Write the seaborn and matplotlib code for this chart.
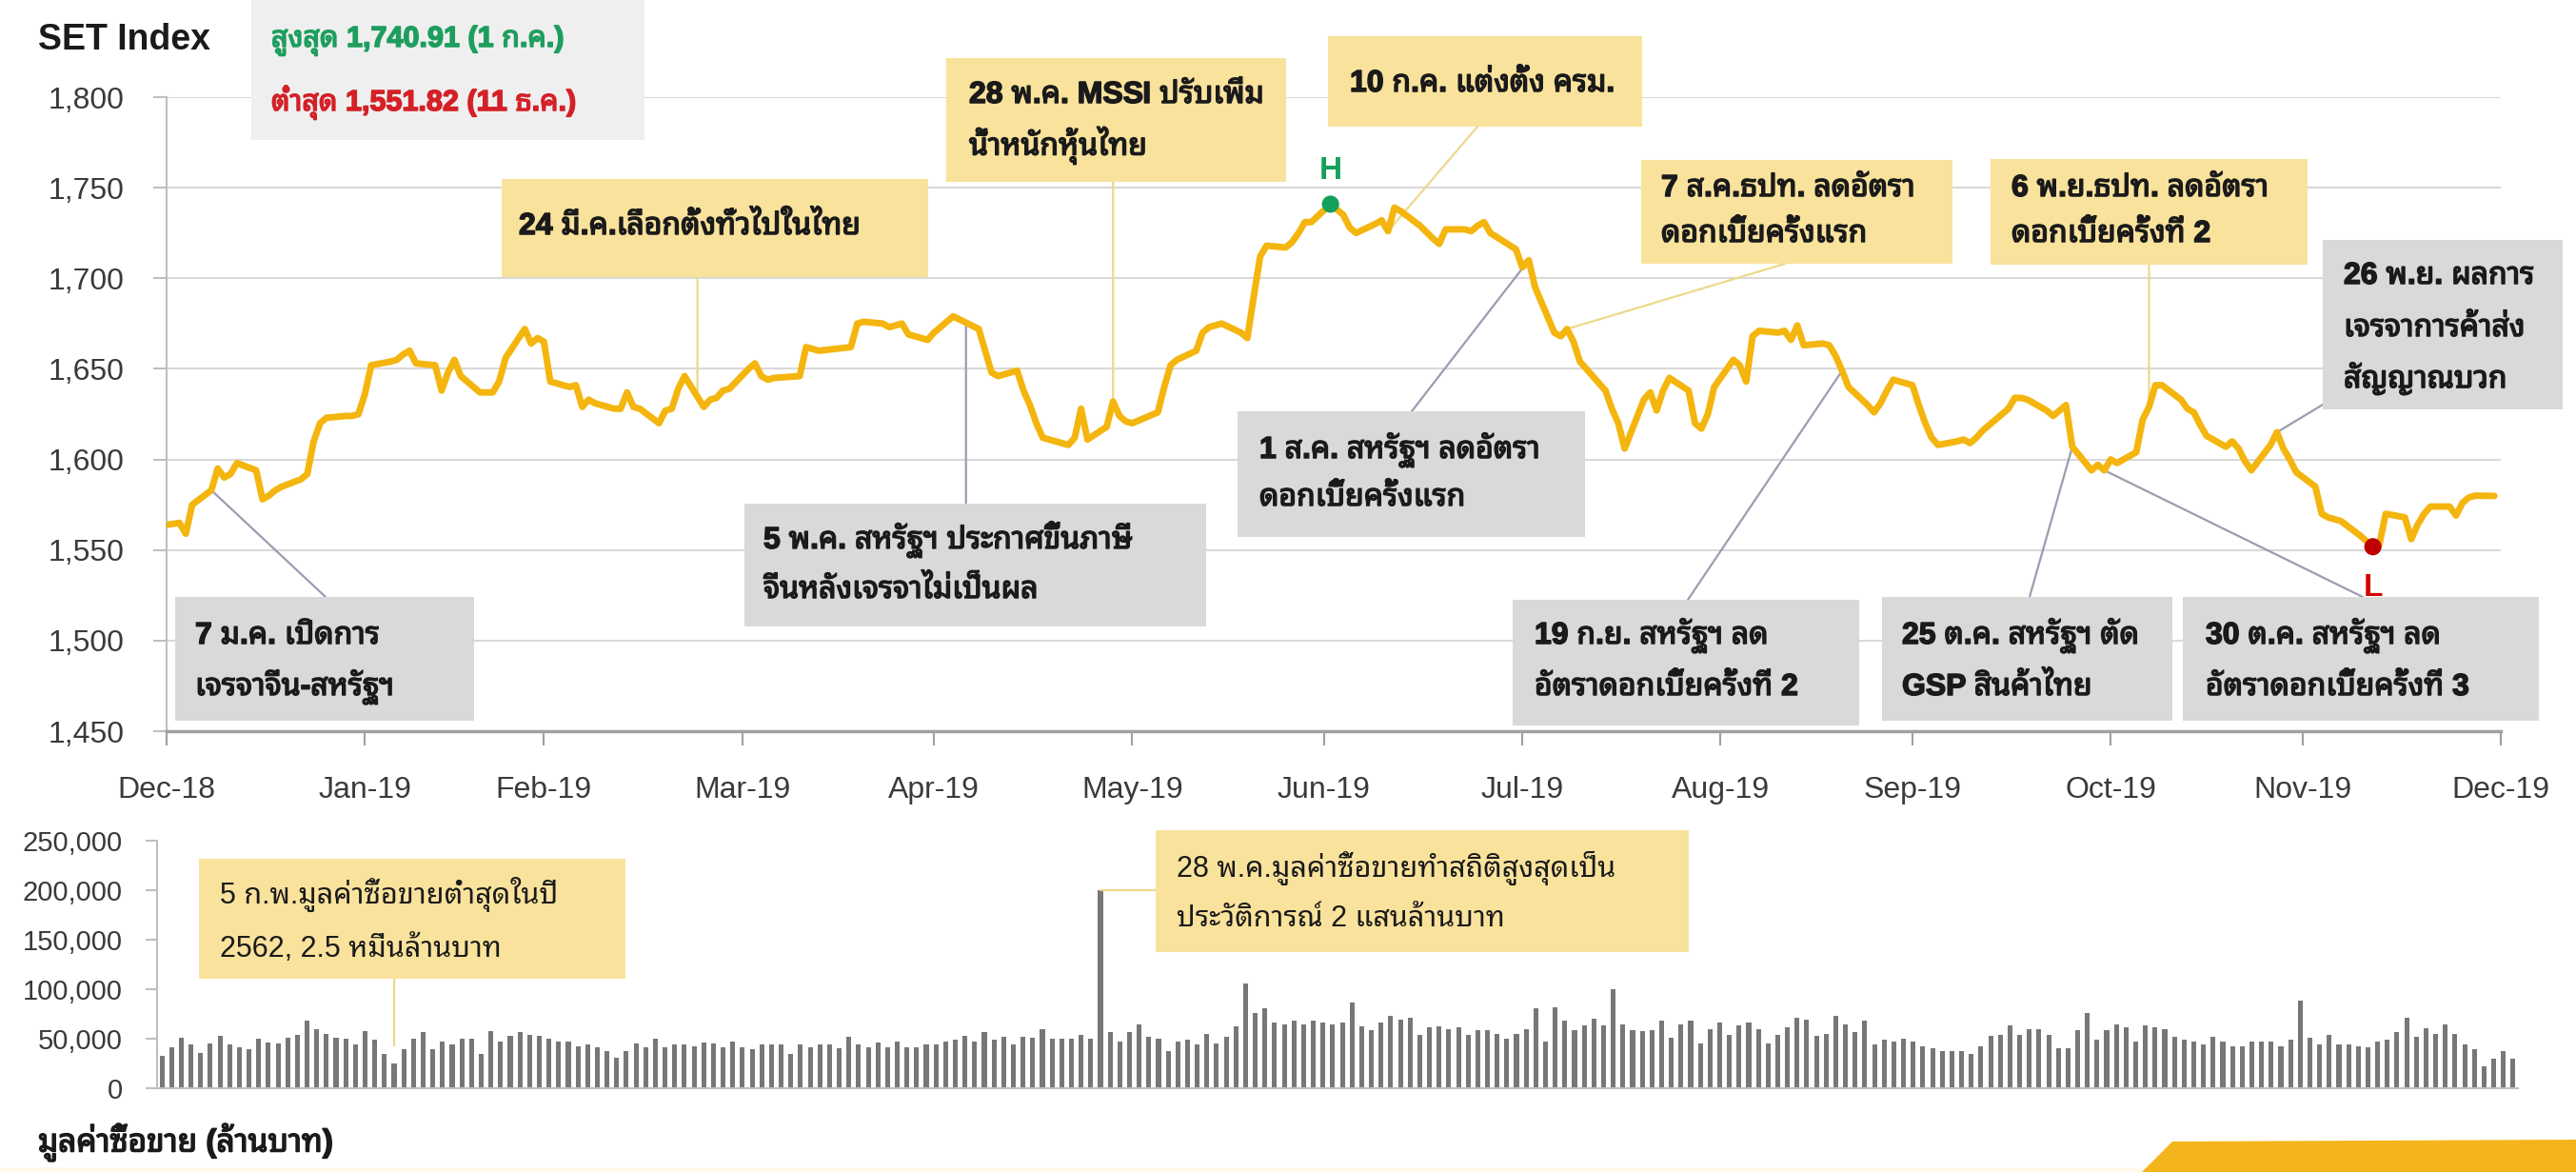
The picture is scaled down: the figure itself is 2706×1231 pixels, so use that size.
import numpy as np
import pandas as pd
import matplotlib
matplotlib.use("Agg")
import matplotlib.pyplot as plt
import matplotlib.dates as mdates
from matplotlib import font_manager, patheffects
from matplotlib.ft2font import FT2Font
from matplotlib.patches import Rectangle, Polygon
from matplotlib.ticker import FuncFormatter
import seaborn as sns

# ------------------------------------------------------------------ data
# SET index close, 2019 (index points); first value is the 2018 year-end close
start_date = "2018-12-31"
start_close = 1563.88

days_jan = [2, 3, 4, 7, 8, 9, 10, 11, 14, 15, 16, 17, 18, 21, 22, 23, 24, 25, 28, 29, 30, 31]
days_feb = [1, 4, 5, 6, 7, 8, 11, 12, 13, 14, 15, 18, 20, 21, 22, 25, 26, 27, 28]
days_mar = [1, 4, 5, 6, 7, 8, 11, 12, 13, 14, 15, 18, 19, 20, 21, 22, 25, 26, 27, 28, 29]
days_apr = [1, 2, 3, 4, 5, 9, 10, 11, 12, 17, 18, 19, 22, 23, 24, 25, 26, 29, 30]
days_may = [2, 3, 7, 8, 9, 10, 13, 14, 15, 16, 17, 21, 22, 23, 24, 27, 28, 29, 30, 31]
days_jun = [4, 5, 6, 7, 10, 11, 12, 13, 14, 17, 18, 19, 20, 21, 24, 25, 26, 27, 28]
days_jul = [1, 2, 3, 4, 5, 8, 9, 10, 11, 12, 15, 17, 18, 19, 22, 23, 24, 25, 26, 30, 31]
days_aug = [1, 2, 5, 6, 7, 8, 9, 13, 14, 15, 16, 19, 20, 21, 22, 23, 26, 27, 28, 29, 30]
days_sep = [2, 3, 4, 5, 6, 9, 10, 11, 12, 13, 16, 17, 18, 19, 20, 23, 24, 25, 26, 27, 30]
days_oct = [1, 2, 3, 4, 7, 8, 9, 10, 11, 15, 16, 17, 18, 21, 22, 24, 25, 28, 29, 30, 31]
days_nov = [1, 4, 5, 6, 7, 8, 11, 12, 13, 14, 15, 18, 19, 20, 21, 22, 25, 26, 27, 28, 29]
days_dec = [2, 3, 4, 6, 9, 11, 12, 13, 16, 17, 18, 19, 20, 23, 24, 25, 26, 27, 30]

set_jan = [1565, 1559, 1575, 1583, 1595, 1590, 1592, 1598, 1594, 1578, 1580,
           1583, 1585, 1589, 1592, 1610, 1620, 1623, 1624, 1624, 1625, 1636]
set_feb = [1652, 1654, 1655, 1658, 1660, 1653, 1652, 1638, 1648, 1655, 1646,
           1637, 1637, 1643, 1656, 1672, 1664, 1667, 1665]
set_mar = [1643, 1640, 1641, 1629, 1633, 1631, 1628, 1628, 1637, 1629, 1628,
           1620, 1627, 1628, 1639, 1646, 1629, 1633, 1634, 1638, 1639]
set_apr = [1650, 1653, 1646, 1644, 1645, 1646, 1662, 1661, 1660, 1662, 1675,
           1676, 1675, 1673, 1674, 1675, 1669, 1666, 1670]
set_may = [1676, 1679, 1672, 1660, 1648, 1646, 1649, 1638, 1630, 1620, 1612,
           1608, 1612, 1628, 1611, 1618, 1632, 1624, 1621, 1620]
set_jun = [1626, 1640, 1652, 1655, 1660, 1670, 1673, 1674, 1675, 1670, 1667,
           1690, 1712, 1718, 1717, 1720, 1725, 1731, 1731]
set_jul = [1740.91, 1738, 1735, 1728, 1725, 1730, 1732, 1726, 1739, 1737, 1729,
           1722, 1719, 1727, 1727, 1726, 1729, 1731, 1725, 1716, 1706]
set_aug = [1710, 1695, 1670, 1668, 1672, 1665, 1654, 1638, 1628, 1620, 1606,
           1633, 1637, 1627, 1638, 1645, 1638, 1620, 1617, 1625, 1640]
set_sep = [1655, 1652, 1643, 1668, 1671, 1670, 1671, 1666, 1674, 1663, 1664,
           1663, 1657, 1649, 1640, 1630, 1626, 1631, 1638, 1644, 1641]
set_oct = [1630, 1620, 1612, 1608, 1610, 1611, 1609, 1612, 1616, 1628, 1634,
           1634, 1633, 1627, 1624, 1630, 1607, 1594, 1597, 1594, 1600]
set_nov = [1598, 1604, 1622, 1629, 1641, 1641, 1633, 1628, 1626, 1619, 1613,
           1607, 1610, 1606, 1599, 1594, 1608, 1615, 1606, 1600, 1593]
set_dec = [1585, 1570, 1568, 1566, 1558, 1551.82, 1553, 1570, 1568, 1556, 1564,
           1570, 1574, 1574, 1569, 1576, 1579, 1580, 1579.84]

# daily turnover (million baht), one bar per 2019 trading day
turnover_h1 = [
    33000, 41000, 51000, 44000, 36000, 45500, 53000, 44600, 41000, 39000,
    50000, 46500, 45500, 51000, 53500, 68000, 60000, 55000, 51000, 50000,
    44000, 58000, 48700, 34400, 25000, 39000, 50000, 57000, 39000, 47000,
    44600, 50000, 50000, 34400, 58000, 47000, 53000, 57000, 53500, 53000,
    50000, 47000, 47000, 42400, 44600, 41000, 37600, 31200, 37600, 45500,
    41000, 50000, 41000, 44000, 44000, 42400, 46500, 45500, 41400, 47000,
    41400, 39000, 44600, 44000, 44000, 34400, 44000, 41400, 44000, 44600,
    40000, 52000, 44000, 41000, 46500, 41400, 47000, 41400, 41000, 44600,
    44000, 47000, 48700, 53000, 47000, 57000, 48700, 52000, 44000, 52000,
    51000, 60000, 50000, 50000, 50000, 54000, 50000, 200000, 57000, 47000,
    57000, 64600, 52000, 50000, 37600, 47000, 48700, 44000, 55000, 45500,
    52000, 62400, 106000, 76000, 80600, 66000, 64600, 67800, 64600, 67800]
turnover_h2 = [
    66200, 64600, 66200, 86900, 62400, 58300, 66200,
    72600, 69400, 71000, 53500, 61500, 62400, 59900, 61500, 53500, 58300,
    58300, 55100, 50300, 55100, 59900, 80600, 47100, 82200, 67800, 58300,
    63100, 70100, 63100, 99700, 64600, 58300, 57300, 58300, 67800, 51000,
    64600, 67800, 45500, 59900, 66200, 53500, 63100, 66200, 59900, 45500,
    53500, 61500, 71000, 69400, 52900, 55100, 72600, 64600, 56700, 67800,
    44000, 48700, 47100, 50300, 47100, 42400, 40800, 37600, 37600, 37600,
    34400, 42400, 52900, 53500, 63100, 53500, 59900, 59900, 53500, 40800,
    40800, 58300, 76400, 48700, 58300, 64600, 61500, 47100, 63100, 61500,
    59200, 51900, 48700, 47100, 44600, 51900, 47100, 42400, 42400, 47100,
    47100, 47100, 42400, 48700, 88500, 51000, 44600, 54100, 44000, 44600,
    42400, 41400, 47100, 48700, 56700, 71000, 51900, 60500, 55100, 64600,
    55100, 44000, 39200, 21700, 29600, 37600, 29600]

tick_dates = ["2018-12-31", "2019-01-31", "2019-02-28", "2019-03-31", "2019-04-30",
              "2019-05-31", "2019-06-30", "2019-07-31", "2019-08-31", "2019-09-30",
              "2019-10-31", "2019-11-30", "2019-12-31"]
tick_labels = ["Dec-18", "Jan-19", "Feb-19", "Mar-19", "Apr-19", "May-19", "Jun-19",
               "Jul-19", "Aug-19", "Sep-19", "Oct-19", "Nov-19", "Dec-19"]
index_ticks = [1450, 1500, 1550, 1600, 1650, 1700, 1750, 1800]
turnover_ticks = [0, 50000, 100000, 150000, 200000, 250000]

high_day_text = "1 ก.ค."
low_day_text = "11 ธ.ค."

event_dates = ["2019-01-07", "2019-03-24", "2019-05-05", "2019-05-28", "2019-07-10",
               "2019-08-01", "2019-08-07", "2019-09-19", "2019-10-25", "2019-10-30",
               "2019-11-06", "2019-11-26"]
event_texts = [
    ["7 ม.ค. เปิดการ", "เจรจาจีน-สหรัฐฯ"],
    ["24 มี.ค.เลือกตั้งทั่วไปในไทย"],
    ["5 พ.ค. สหรัฐฯ ประกาศขึ้นภาษี", "จีนหลังเจรจาไม่เป็นผล"],
    ["28 พ.ค. MSCI ปรับเพิ่ม", "น้ำหนักหุ้นไทย"],
    ["10 ก.ค. แต่งตั้ง ครม."],
    ["1 ส.ค. สหรัฐฯ ลดอัตรา", "ดอกเบี้ยครั้งแรก"],
    ["7 ส.ค.ธปท. ลดอัตรา", "ดอกเบี้ยครั้งแรก"],
    ["19 ก.ย. สหรัฐฯ ลด", "อัตราดอกเบี้ยครั้งที่ 2"],
    ["25 ต.ค. สหรัฐฯ ตัด", "GSP สินค้าไทย"],
    ["30 ต.ค. สหรัฐฯ ลด", "อัตราดอกเบี้ยครั้งที่ 3"],
    ["6 พ.ย.ธปท. ลดอัตรา", "ดอกเบี้ยครั้งที่ 2"],
    ["26 พ.ย. ผลการ", "เจรจาการค้าส่ง", "สัญญาณบวก"],
]
low_turnover_date = "2019-02-05"
low_turnover_text = ["5 ก.พ.มูลค่าซื้อขายต่ำสุดในปี", "2562, 2.5 หมื่นล้านบาท"]
high_turnover_date = "2019-05-28"
high_turnover_text = ["28 พ.ค.มูลค่าซื้อขายทำสถิติสูงสุดเป็น", "ประวัติการณ์ 2 แสนล้านบาท"]

# ------------------------------------------------------------------ assemble series
months = [(1, days_jan, set_jan), (2, days_feb, set_feb), (3, days_mar, set_mar),
          (4, days_apr, set_apr), (5, days_may, set_may), (6, days_jun, set_jun),
          (7, days_jul, set_jul), (8, days_aug, set_aug), (9, days_sep, set_sep),
          (10, days_oct, set_oct), (11, days_nov, set_nov), (12, days_dec, set_dec)]
trade_dates, closes = [], []
for m, days, vals in months:
    assert len(days) == len(vals), m
    trade_dates += [pd.Timestamp(2019, m, d) for d in days]
    closes += vals
turnover = turnover_h1 + turnover_h2
assert len(turnover) == len(trade_dates)

index_df = pd.DataFrame({"date": [pd.Timestamp(start_date)] + trade_dates,
                         "close": [start_close] + closes})
turnover_df = pd.DataFrame({"day": np.arange(len(trade_dates)), "value": turnover})

# ------------------------------------------------------------------ fonts
sns.set_theme(style="white")


def thai_family():
    known = {f.fname for f in font_manager.fontManager.ttflist}
    for path in font_manager.findSystemFonts():
        if path not in known:
            try:
                font_manager.fontManager.addfont(path)
            except Exception:
                pass
    found = {}
    for entry in font_manager.fontManager.ttflist:
        try:
            cmap = FT2Font(entry.fname).get_charmap()
        except Exception:
            continue
        if all(cp in cmap for cp in (0x0E01, 0x0E2A, 0x0E31, 0x0E48)):
            w = entry.weight if isinstance(entry.weight, int) else 400
            found.setdefault(entry.name, set()).add(w)
    preferred = ["Noto Sans Thai Looped", "Loma", "Garuda", "Tlwg Typo", "Waree",
                 "Noto Sans Thai", "Noto Sans Thai UI", "Sarabun", "Umpush",
                 "Kinnari", "Norasi", "FreeSans"]
    for name in preferred + sorted(found):
        if name in found:
            return name, max(found[name]) >= 600
    return None, False


thai, thai_bold = thai_family()
families = ["Liberation Sans"] + ([thai] if thai else []) + ["DejaVu Sans"]
plt.rcParams["font.family"] = families


def heavy(color, width=1.1):
    """Extra stroke so Thai glyphs read as bold when the face has no bold cut."""
    if thai_bold:
        return []
    return [patheffects.withStroke(linewidth=width, foreground=color)]


# ------------------------------------------------------------------ layout helpers
W, H = 2706, 1231


def fx(px):
    return px / W


def fy(py):
    return 1 - py / H


GOLD = "#F4B50F"
BOX_YELLOW = "#F9E29C"
BOX_GRAY = "#D9D9D9"
LEAD_YELLOW = "#EDD88C"
LEAD_GRAY = "#9C9CB2"
TEXT = "#1A1A1A"
AXIS_TEXT = "#3A3A3A"

fig = plt.figure(figsize=(W / 100, H / 100), dpi=100)
fig.patch.set_facecolor("white")

ax1 = fig.add_axes([fx(175), fy(768), fx(2627) - fx(175), fy(102) - fy(768)])
ax2 = fig.add_axes([fx(165), fy(1143), fx(2645) - fx(165), fy(883) - fy(1143)])

# ------------------------------------------------------------------ SET index line
sns.lineplot(data=index_df, x="date", y="close", ax=ax1, color=GOLD,
             linewidth=5, zorder=3)
ax1.set_xlim(pd.Timestamp(tick_dates[0]), pd.Timestamp(tick_dates[-1]))
ax1.set_ylim(index_ticks[0], index_ticks[-1])
ax1.set_xticks([pd.Timestamp(t) for t in tick_dates])
ax1.set_xticklabels(tick_labels)
ax1.set_yticks(index_ticks)
ax1.yaxis.set_major_formatter(FuncFormatter(lambda v, _: f"{v:,.0f}"))
ax1.set_xlabel("")
ax1.set_ylabel("")
ax1.yaxis.grid(True, color="#D9D9D9", linewidth=1.5)
ax1.xaxis.grid(False)
for side in ("top", "right"):
    ax1.spines[side].set_visible(False)
ax1.spines["left"].set_color("#BFBFBF")
ax1.spines["left"].set_linewidth(1.5)
ax1.spines["bottom"].set_color("#A0A0A0")
ax1.spines["bottom"].set_linewidth(2.5)
ax1.spines["bottom"].set_zorder(4)
ax1.tick_params(axis="y", left=True, length=10, width=1.5, color="#BFBFBF",
                pad=22, labelsize=23, labelcolor=AXIS_TEXT)
ax1.tick_params(axis="x", bottom=True, length=11, width=1.5, color="#A0A0A0",
                pad=23, labelsize=23, labelcolor=AXIS_TEXT)
ax1.set_facecolor("white")

# high / low markers taken from the series itself
hi_i = int(index_df["close"].idxmax())
lo_i = int(index_df["close"].idxmin())
hi_date, hi_val = index_df.loc[hi_i, "date"], index_df.loc[hi_i, "close"]
lo_date, lo_val = index_df.loc[lo_i, "date"], index_df.loc[lo_i, "close"]
sns.scatterplot(x=[hi_date], y=[hi_val], ax=ax1, color="#14A05A", s=170,
                edgecolor="none", zorder=6)
sns.scatterplot(x=[lo_date], y=[lo_val], ax=ax1, color="#C00000", s=170,
                edgecolor="none", zorder=6)
ax1.annotate("H", xy=(hi_date, hi_val), xytext=(0, 25), textcoords="offset points",
             ha="center", va="center", color="#14A05A", fontsize=24,
             fontweight="bold", zorder=6)
ax1.annotate("L", xy=(lo_date, lo_val), xytext=(0, -31), textcoords="offset points",
             ha="center", va="center", color="#D40000", fontsize=24,
             fontweight="bold", zorder=6)

# ------------------------------------------------------------------ turnover bars
sns.barplot(data=turnover_df, x="day", y="value", ax=ax2, color="#777777",
            width=0.5, saturation=1, errorbar=None, linewidth=0)
ax2.set_xlim(-0.5, len(turnover) - 0.5)
ax2.set_ylim(turnover_ticks[0], turnover_ticks[-1])
ax2.set_xticks([])
ax2.set_yticks(turnover_ticks)
ax2.yaxis.set_major_formatter(FuncFormatter(lambda v, _: f"{v:,.0f}"))
ax2.set_xlabel("")
ax2.set_ylabel("")
ax2.grid(False)
for side in ("top", "right"):
    ax2.spines[side].set_visible(False)
ax2.spines["left"].set_color("#BFBFBF")
ax2.spines["left"].set_linewidth(1.5)
ax2.spines["bottom"].set_color("#BFBFBF")
ax2.spines["bottom"].set_linewidth(1.5)
ax2.tick_params(axis="y", left=True, length=9, width=1.5, color="#BFBFBF",
                pad=17, labelsize=21, labelcolor=AXIS_TEXT)
ax2.set_facecolor("white")

# ------------------------------------------------------------------ annotation helpers
date_nums = mdates.date2num(index_df["date"])


def level_on(day):
    """SET level on the line at a calendar day (between trading days too)."""
    return float(np.interp(mdates.date2num(pd.Timestamp(day)), date_nums,
                           index_df["close"]))


def box(x0, y0, x1, y1, lines, tx, ty, fill, bold=True, size=23):
    fig.add_artist(Rectangle((fx(x0), fy(y1)), fx(x1) - fx(x0), fy(y0) - fy(y1),
                             transform=fig.transFigure, facecolor=fill,
                             edgecolor="none", zorder=5))
    for line, y in zip(lines, ty):
        t = fig.text(fx(tx), fy(y), line, ha="left", va="center", fontsize=size,
                     fontweight="bold" if bold else "normal", color=TEXT, zorder=6)
        if bold:
            t.set_path_effects(heavy(TEXT))


def lead(day, px, py, color, vertical=False):
    when = mdates.date2num(pd.Timestamp(day))
    if vertical:
        xytext, coords = (when, fy(py)), ("data", "figure fraction")
    else:
        xytext, coords = (fx(px), fy(py)), "figure fraction"
    ax1.annotate("", xy=(when, level_on(day)), xycoords="data", xytext=xytext,
                 textcoords=coords, annotation_clip=False, zorder=2,
                 arrowprops=dict(arrowstyle="-", color=color, lw=1.6,
                                 shrinkA=0, shrinkB=0))


# leader lines from each note to the index line
lead(event_dates[0], 342, 627, LEAD_GRAY)
lead(event_dates[1], None, 291, LEAD_YELLOW, vertical=True)
lead(event_dates[2], None, 529, LEAD_GRAY, vertical=True)
lead(event_dates[3], None, 191, LEAD_YELLOW, vertical=True)
lead(event_dates[4], 1552, 133, LEAD_YELLOW)
lead(event_dates[5], 1483, 432, LEAD_GRAY)
lead(event_dates[6], 1875, 277, LEAD_YELLOW)
lead(event_dates[7], 1773, 630, LEAD_GRAY)
lead(event_dates[8], 2132, 627, LEAD_GRAY)
lead(event_dates[9], 2482, 627, LEAD_GRAY)
lead(event_dates[10], None, 278, LEAD_YELLOW, vertical=True)
lead(event_dates[11], 2440, 425, LEAD_GRAY)

# note boxes around the index line
box(184, 627, 498, 757, event_texts[0], 205, [668, 722], BOX_GRAY)
box(527, 188, 975, 291, event_texts[1], 545, [238], BOX_YELLOW)
box(782, 529, 1267, 658, event_texts[2], 802, [567, 620], BOX_GRAY)
box(994, 61, 1351, 191, event_texts[3], 1018, [100, 153], BOX_YELLOW)
box(1395, 38, 1725, 133, event_texts[4], 1418, [88], BOX_YELLOW)
box(1300, 432, 1665, 564, event_texts[5], 1323, [473, 523], BOX_GRAY)
box(1724, 168, 2051, 277, event_texts[6], 1745, [198, 246], BOX_YELLOW)
box(1589, 630, 1953, 762, event_texts[7], 1612, [668, 722], BOX_GRAY)
box(1977, 627, 2282, 757, event_texts[8], 1998, [668, 722], BOX_GRAY)
box(2293, 627, 2667, 757, event_texts[9], 2317, [668, 722], BOX_GRAY)
box(2091, 167, 2424, 278, event_texts[10], 2113, [198, 246], BOX_YELLOW)
box(2440, 252, 2692, 430, event_texts[11], 2462, [290, 345, 398], BOX_GRAY)

# turnover notes
lo_day = trade_dates.index(pd.Timestamp(low_turnover_date))
hi_day = trade_dates.index(pd.Timestamp(high_turnover_date))
ax2.annotate("", xy=(lo_day, turnover[lo_day] + 18000), xycoords="data",
             xytext=(lo_day, fy(1028)), textcoords=("data", "figure fraction"),
             annotation_clip=False, zorder=2,
             arrowprops=dict(arrowstyle="-", color=LEAD_YELLOW, lw=1.6,
                             shrinkA=0, shrinkB=0))
ax2.annotate("", xy=(hi_day, turnover[hi_day]), xycoords="data",
             xytext=(fx(1214), turnover[hi_day]), textcoords=("figure fraction", "data"),
             annotation_clip=False, zorder=2,
             arrowprops=dict(arrowstyle="-", color=LEAD_YELLOW, lw=1.6,
                             shrinkA=0, shrinkB=0))
box(209, 902, 657, 1028, low_turnover_text, 231, [940, 997], BOX_YELLOW,
    bold=False, size=22)
box(1214, 872, 1774, 1000, high_turnover_text, 1236, [912, 965], BOX_YELLOW,
    bold=False, size=22)

# ------------------------------------------------------------------ titles and summary
fig.text(fx(40), fy(42), "SET Index", ha="left", va="center", fontsize=27,
         fontweight="bold", color="#1A1A1A")
fig.add_artist(Rectangle((fx(264), fy(147)), fx(677) - fx(264), fy(0) - fy(147),
                         transform=fig.transFigure, facecolor="#EFEFEF",
                         edgecolor="none", zorder=1))
hi_txt = fig.text(fx(285), fy(42), f"สูงสุด {hi_val:,.2f} ({high_day_text})",
                  ha="left", va="center", fontsize=22, fontweight="bold",
                  color="#1E9E5E", zorder=2)
hi_txt.set_path_effects(heavy("#1E9E5E"))
lo_txt = fig.text(fx(285), fy(108), f"ต่ำสุด {lo_val:,.2f} ({low_day_text})",
                  ha="left", va="center", fontsize=22, fontweight="bold",
                  color="#D42027", zorder=2)
lo_txt.set_path_effects(heavy("#D42027"))
unit_txt = fig.text(fx(40), fy(1200), "มูลค่าซื้อขาย (ล้านบาท)", ha="left",
                    va="center", fontsize=24, fontweight="bold", color="#1A1A1A")
unit_txt.set_path_effects(heavy("#1A1A1A"))

# decorative footer
fig.add_artist(Rectangle((0, 0), fx(2250), fy(1226), transform=fig.transFigure,
                         facecolor="#FEFAEC", edgecolor="none", zorder=0))
fig.add_artist(Polygon([(fx(2250), fy(1231)), (fx(2282), fy(1199)), (1, fy(1197)),
                        (1, 0)], closed=True, transform=fig.transFigure,
                       facecolor="#F4B51C", edgecolor="none", zorder=1))

fig.savefig("out.png", dpi=100)
